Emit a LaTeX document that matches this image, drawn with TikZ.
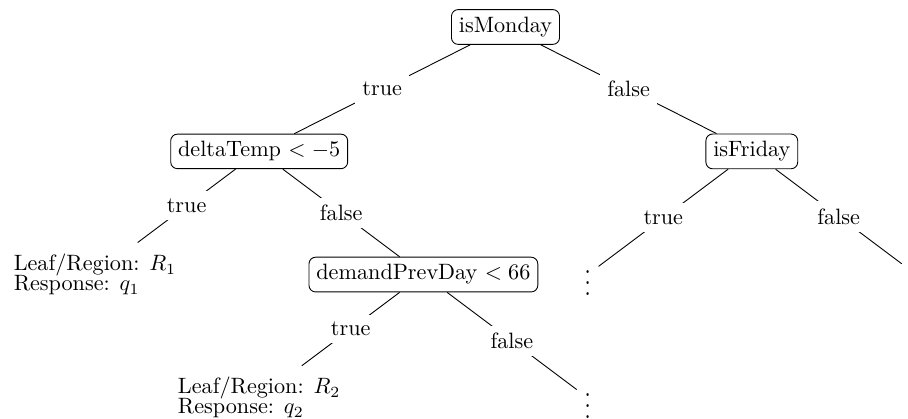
\documentclass[tikz,border=0pt]{standalone}
\usepackage{amsmath}
\usepackage{tikz}
\usetikzlibrary{positioning}

\begin{document}
\begin{tikzpicture}[
			on grid,
			decision/.style={
				draw,
				rounded corners=3pt,
				align=center
			},
			leafbox/.style={
				align=left,
				inner ysep=5pt
			},
			moredots/.style={
				inner sep=3.33pt
			},
			branch/.style={
				midway,
				fill=white
			}
			]
			
			\useasboundingbox (-8.004,-6.207) rectangle (6.373,0.4275);
			
			%%%%%%%%%%%%%%%%%%%%%%%%%%%%%%%%%%%%%%%%%%%%%%%%%%%%%%%%%%%%
			% Root
			%%%%%%%%%%%%%%%%%%%%%%%%%%%%%%%%%%%%%%%%%%%%%%%%%%%%%%%%%%%%
			
			\node[decision] (monday) {isMonday};
			
			%%%%%%%%%%%%%%%%%%%%%%%%%%%%%%%%%%%%%%%%%%%%%%%%%%%%%%%%%%%%
			% First Split
			%%%%%%%%%%%%%%%%%%%%%%%%%%%%%%%%%%%%%%%%%%%%%%%%%%%%%%%%%%%%
			
			\node[decision] (delta) [below left=1.97cm and 3.9cm of monday]
			{deltaTemp $< -5$};
			
			\node[decision] (friday) [below right=1.97cm and 3.9cm of monday]
			{isFriday};
			
			%%%%%%%%%%%%%%%%%%%%%%%%%%%%%%%%%%%%%%%%%%%%%%%%%%%%%%%%%%%%
			% Second Split
			%%%%%%%%%%%%%%%%%%%%%%%%%%%%%%%%%%%%%%%%%%%%%%%%%%%%%%%%%%%%
			
			\node[leafbox] (leafone) [below left=1.95cm and 2.6cm of delta]
			{Leaf/Region: $R_1$\\[-3pt]Response: $q_1$};
			
			\node[decision] (demand) [below right=1.95cm and 2.6cm of delta]
			{demandPrevDay $< 66$};
			
			\node[moredots] (dotsone) [below left=1.95cm and 2.6cm of friday]
			{\scalebox{1}[1.25]{$\vdots$}};
			
			\coordinate[below right=1.78cm and 2.375cm of friday] (fridayfalse);
			
			%%%%%%%%%%%%%%%%%%%%%%%%%%%%%%%%%%%%%%%%%%%%%%%%%%%%%%%%%%%%
			% Third Split
			%%%%%%%%%%%%%%%%%%%%%%%%%%%%%%%%%%%%%%%%%%%%%%%%%%%%%%%%%%%%
			
			\node[leafbox] (leaftwo) [below left=1.95cm and 2.6cm of demand]
			{Leaf/Region: $R_2$\\[-3pt]Response: $q_2$};
			
			\node[moredots] (dotstwo) [below right=1.95cm and 2.6cm of demand]
			{\scalebox{1}[1.25]{$\vdots$}};
			
			%%%%%%%%%%%%%%%%%%%%%%%%%%%%%%%%%%%%%%%%%%%%%%%%%%%%%%%%%%%%
			% Branches
			%%%%%%%%%%%%%%%%%%%%%%%%%%%%%%%%%%%%%%%%%%%%%%%%%%%%%%%%%%%%
			
			\draw (monday) -- node[branch]{true} (delta);
			
			\draw (monday) -- node[branch]{false} (friday);
			
			\draw (delta) -- node[branch]{true} (leafone);
			
			\draw (delta) -- node[branch]{false} (demand);
			
			\draw (friday) -- node[branch]{true} (dotsone);
			
			\draw (friday) -- node[branch]{false} (fridayfalse);
			
			\draw (demand) -- node[branch]{true} (leaftwo);
			
			\draw (demand) -- node[branch]{false} (dotstwo);
			
			%%%%%%%%%%%%%%%%%%%%%%%%%%%%%%%%%%%%%%%%%%%%%%%%%%%%%%%%%%%%
			
		\end{tikzpicture}
\end{document}
